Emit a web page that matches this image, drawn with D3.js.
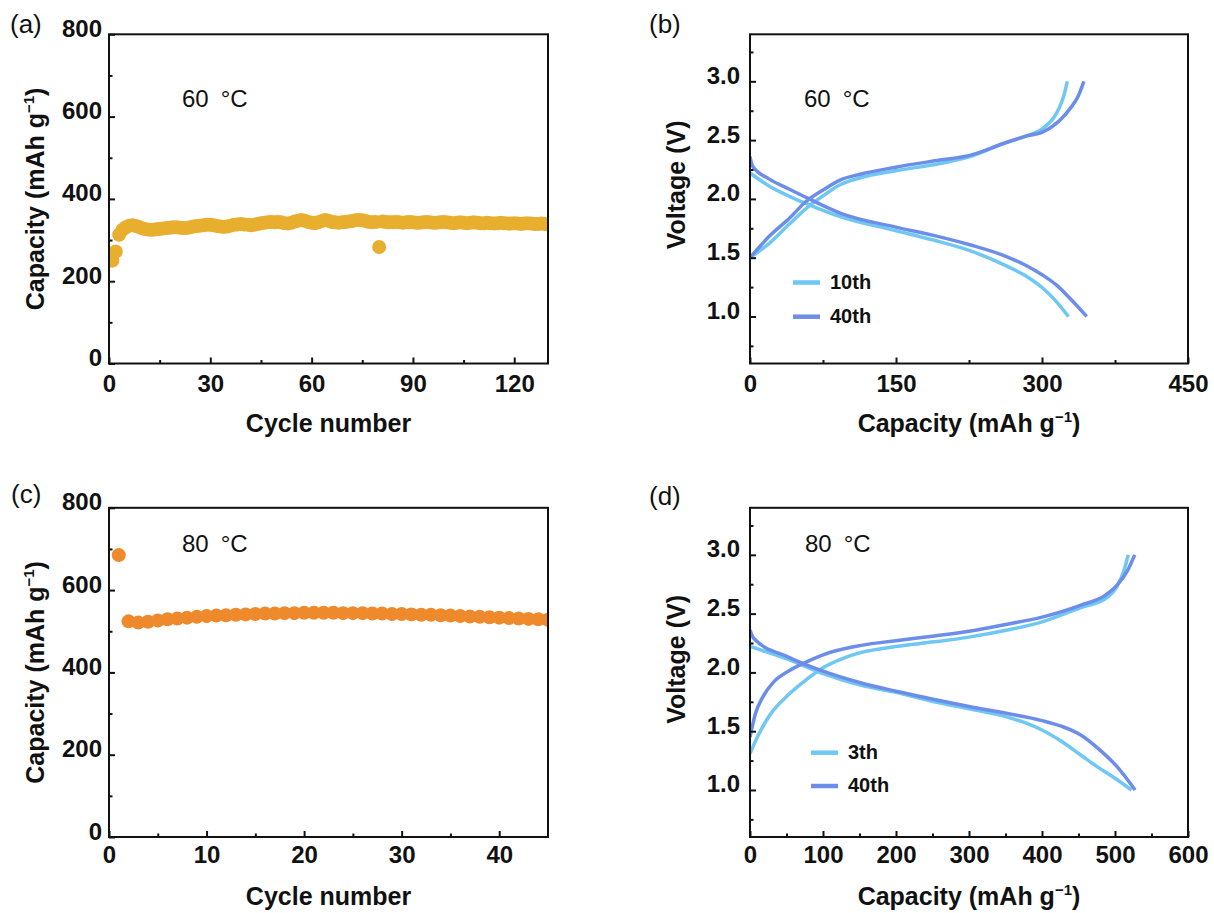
<!DOCTYPE html>
<html>
<head>
<meta charset="utf-8">
<script src="https://cdn.jsdelivr.net/npm/d3@7"></script>
<style>
  body { margin: 0; background: #fff; }
  svg { display: block; }
</style>
</head>
<body>
<svg id="fig" width="1214" height="913"></svg>
<script>
// ---- data ----
// (a) capacity per cycle at 60 C, cycles 1..130
const capacityA = [
  250, 272, 313, 325, 331, 335, 336, 334, 331, 328,
  326, 325, 325, 326, 327, 328, 329, 330, 331, 331,
  330, 329, 329, 331, 333, 334, 335, 336, 337, 337,
  336, 334, 333, 332, 333, 335, 337, 338, 339, 338,
  337, 336, 337, 339, 341, 342, 343, 344, 343, 344,
  343, 341, 340, 342, 345, 347, 349, 347, 344, 342,
  341, 343, 346, 349, 347, 344, 343, 342, 343, 344,
  345, 346, 348, 349, 348, 346, 344, 343, 344, 283,
  345, 344, 343, 343, 344, 343, 342, 343, 344, 343,
  342, 342, 343, 344, 343, 342, 342, 343, 344, 343,
  342, 341, 342, 343, 342, 341, 342, 343, 342, 341,
  341, 342, 341, 340, 341, 342, 341, 340, 340, 341,
  340, 339, 340, 341, 340, 339, 339, 340, 339, 338
];

// (c) capacity per cycle at 80 C, cycles 1..45
const capacityC = [
  685, 524, 521, 523, 526, 529, 531, 533, 535, 537,
  538, 539, 540, 541, 542, 543, 543, 544, 544, 545,
  545, 545, 545, 544, 544, 544, 543, 543, 542, 542,
  541, 540, 540, 539, 538, 537, 536, 535, 534, 533,
  532, 531, 530, 529, 528
];

// (b) voltage profiles at 60 C, [capacity, voltage]
const charge10B = [[0, 1.50], [19.5, 1.62], [41, 1.79], [57.8, 1.92], [75.8, 2.03], [92.5, 2.12],
  [113.3, 2.18], [149.7, 2.24], [195, 2.30], [225.9, 2.36], [263.4, 2.48], [282, 2.53],
  [300.9, 2.60], [312, 2.69], [318, 2.78], [322.5, 2.88], [326, 3.00]];
const charge40B = [[0, 1.50], [19.5, 1.68], [41, 1.84], [57.8, 1.98], [75.8, 2.08], [92.5, 2.16],
  [113.3, 2.21], [149.7, 2.27], [195, 2.33], [225.9, 2.37], [263.4, 2.48], [282, 2.53],
  [300.9, 2.57], [319.7, 2.68], [329, 2.77], [337, 2.87], [343, 3.00]];
const discharge10B = [[0, 2.22], [19.5, 2.11], [41, 2.02], [60.8, 1.95], [92.5, 1.85], [149.7, 1.73],
  [188.4, 1.65], [225.9, 1.56], [263.4, 1.43], [282.2, 1.35], [300.9, 1.24], [312.2, 1.15],
  [327.2, 1.00]];
const discharge40B = [[0, 2.36], [2.6, 2.28], [19.5, 2.17], [41, 2.08], [60.8, 2.00], [92.5, 1.88],
  [149.7, 1.76], [188.4, 1.69], [225.9, 1.61], [263.4, 1.51], [282.2, 1.44], [300.9, 1.35],
  [315.9, 1.26], [329.1, 1.15], [345.9, 1.00]];

// (d) voltage profiles at 80 C, [capacity, voltage]
const charge3D = [[0, 1.31], [12.5, 1.48], [27.5, 1.64], [52.5, 1.81], [77.5, 1.94], [100, 2.04],
  [127.5, 2.12], [152.5, 2.17], [200, 2.22], [252.5, 2.26], [300, 2.30], [352.5, 2.36],
  [400, 2.43], [452.5, 2.55], [487.5, 2.63], [502.5, 2.73], [512.5, 2.87], [518, 3.00]];
const charge40D = [[0, 1.45], [7.5, 1.65], [17.5, 1.79], [32.5, 1.92], [52.5, 2.01], [77.5, 2.09],
  [100, 2.15], [152.5, 2.23], [200, 2.27], [252.5, 2.31], [300, 2.35], [352.5, 2.41],
  [400, 2.47], [452.5, 2.57], [487.5, 2.66], [502.5, 2.74], [517.5, 2.87], [527, 3.00]];
const discharge3D = [[0, 2.22], [52.5, 2.11], [100, 1.99], [152.5, 1.89], [200, 1.83], [252.5, 1.75],
  [300, 1.69], [352.5, 1.62], [377.5, 1.57], [400, 1.51], [427.5, 1.41], [452.5, 1.30],
  [477.5, 1.19], [500, 1.10], [522.5, 1.00]];
const discharge40D = [[0, 2.36], [5, 2.29], [52.5, 2.13], [100, 2.01], [152.5, 1.91], [200, 1.84],
  [252.5, 1.77], [300, 1.71], [352.5, 1.65], [400, 1.59], [427.5, 1.54], [452.5, 1.47],
  [477.5, 1.35], [502.5, 1.20], [527.5, 1.00]];

// ticks
const capTicks = [0, 200, 400, 600, 800];
const capMinor = [100, 300, 500, 700];
const voltTicks = [1.0, 1.5, 2.0, 2.5, 3.0];
const voltMinor = [0.75, 1.25, 1.75, 2.25, 2.75, 3.25];

const FONT = '"Liberation Sans", Arial, Helvetica, sans-serif';
const INK = '#111';
const GOLD = '#e8af2f';
const ORANGE = '#ef8a2c';
const LIGHT_BLUE = '#6fc7f3';
const DARK_BLUE = '#6c8ee9';

const svg = d3.select('#fig');
const defs = svg.append('defs');

const panels = [
  {
    id: 'a', box: {left: 109, right: 548, top: 34.3, bottom: 363.5},
    xDomain: [0, 130], yDomain: [0, 800],
    xTicks: [0, 30, 60, 90, 120], xMinor: [15, 45, 75, 105], xPad: 11,
    yTicks: capTicks, yMinor: capMinor, yFormat: d3.format('d'), yPad: 7,
    points: capacityA, color: GOLD, radius: 7,
    xTitle: 'Cycle number', yTitle: 'cap', yTitleShift: 0,
    tag: {text: '(a)', x: 10, y: 33}, temp: {text: '60', x: 182, y: 107}
  },
  {
    id: 'b', box: {left: 750, right: 1188, top: 34.3, bottom: 363.5},
    xDomain: [0, 450], yDomain: [0.6, 3.4],
    xTicks: [0, 150, 300, 450], xMinor: [75, 225, 375], xPad: 11,
    yTicks: voltTicks, yMinor: voltMinor, yFormat: d3.format('.1f'), yPad: 10,
    series: [
      {values: charge10B, color: LIGHT_BLUE}, {values: discharge10B, color: LIGHT_BLUE},
      {values: charge40B, color: DARK_BLUE}, {values: discharge40B, color: DARK_BLUE}
    ],
    legend: {x0: 793, x1: 820, tx: 830, rows: [{y: 282.5, label: '10th', color: LIGHT_BLUE},
                                               {y: 316.7, label: '40th', color: DARK_BLUE}]},
    xTitle: 'cap', yTitle: 'Voltage (V)', yTitleShift: -14,
    tag: {text: '(b)', x: 649, y: 33}, temp: {text: '60', x: 804, y: 107}
  },
  {
    id: 'c', box: {left: 109, right: 548, top: 507.8, bottom: 837},
    xDomain: [0, 45], yDomain: [0, 800],
    xTicks: [0, 10, 20, 30, 40], xMinor: [5, 15, 25, 35], xPad: 9,
    yTicks: capTicks, yMinor: capMinor, yFormat: d3.format('d'), yPad: 7,
    points: capacityC, color: ORANGE, radius: 7,
    xTitle: 'Cycle number', yTitle: 'cap', yTitleShift: 0,
    tag: {text: '(c)', x: 11, y: 503}, temp: {text: '80', x: 182, y: 552}
  },
  {
    id: 'd', box: {left: 750, right: 1188, top: 507.8, bottom: 837},
    xDomain: [0, 600], yDomain: [0.6, 3.4],
    xTicks: [0, 100, 200, 300, 400, 500, 600], xMinor: [50, 150, 250, 350, 450, 550], xPad: 9,
    yTicks: voltTicks, yMinor: voltMinor, yFormat: d3.format('.1f'), yPad: 10,
    series: [
      {values: charge3D, color: LIGHT_BLUE}, {values: discharge3D, color: LIGHT_BLUE},
      {values: charge40D, color: DARK_BLUE}, {values: discharge40D, color: DARK_BLUE}
    ],
    legend: {x0: 811, x1: 838, tx: 848, rows: [{y: 752.7, label: '3th', color: LIGHT_BLUE},
                                               {y: 786, label: '40th', color: DARK_BLUE}]},
    xTitle: 'cap', yTitle: 'Voltage (V)', yTitleShift: -13,
    tag: {text: '(d)', x: 649, y: 505}, temp: {text: '80', x: 805, y: 552}
  }
];

// "Capacity (mAh g^-1)" with a raised -1
function capacityTitle(text) {
  text.append('tspan').text('Capacity (mAh g');
  text.append('tspan').attr('font-size', 15).attr('dy', -10).text('\u22121');
  text.append('tspan').attr('dy', 10).text(')');
}

function styleAxis(sel) {
  sel.attr('font-family', FONT).attr('font-size', 24).attr('font-weight', 'bold');
  sel.select('.domain').remove();
  sel.selectAll('.tick line').attr('stroke', INK).attr('stroke-width', 2);
  sel.selectAll('.tick text').attr('fill', INK);
}

function drawPanel(p) {
  const b = p.box;
  const x = d3.scaleLinear().domain(p.xDomain).range([b.left, b.right]);
  const y = d3.scaleLinear().domain(p.yDomain).range([b.bottom, b.top]);
  const g = svg.append('g').attr('class', 'panel-' + p.id);

  defs.append('clipPath').attr('id', 'clip-' + p.id)
    .append('rect')
    .attr('x', b.left).attr('y', b.top)
    .attr('width', b.right - b.left).attr('height', b.bottom - b.top);
  const plot = g.append('g').attr('clip-path', `url(#clip-${p.id})`);

  if (p.points) {
    plot.selectAll('circle')
      .data(p.points)
      .join('circle')
      .attr('cx', (d, i) => x(i + 1))
      .attr('cy', d => y(d))
      .attr('r', p.radius)
      .attr('fill', p.color);
  }

  if (p.series) {
    const line = d3.line()
      .x(d => x(d[0]))
      .y(d => y(d[1]))
      .curve(d3.curveMonotoneX);
    plot.selectAll('path')
      .data(p.series)
      .join('path')
      .attr('d', d => line(d.values))
      .attr('fill', 'none')
      .attr('stroke', d => d.color)
      .attr('stroke-width', 3.5)
      .attr('stroke-linejoin', 'round');
  }

  // axes, ticks point inward
  g.append('g')
    .attr('transform', `translate(0,${b.bottom})`)
    .call(d3.axisBottom(x).tickValues(p.xTicks).tickSizeInner(-6).tickSizeOuter(0).tickPadding(p.xPad))
    .call(styleAxis);
  g.append('g')
    .attr('transform', `translate(0,${b.bottom})`)
    .call(d3.axisBottom(x).tickValues(p.xMinor).tickSizeInner(-3.5).tickSizeOuter(0).tickFormat(''))
    .call(styleAxis);
  g.append('g')
    .attr('transform', `translate(${b.left},0)`)
    .call(d3.axisLeft(y).tickValues(p.yTicks).tickSizeInner(-6).tickSizeOuter(0)
      .tickPadding(p.yPad).tickFormat(p.yFormat))
    .call(styleAxis)
    .call(a => a.selectAll('.tick text').attr('dy', 2));
  g.append('g')
    .attr('transform', `translate(${b.left},0)`)
    .call(d3.axisLeft(y).tickValues(p.yMinor).tickSizeInner(-3.5).tickSizeOuter(0).tickFormat(''))
    .call(styleAxis);

  // frame
  g.append('rect')
    .attr('x', b.left).attr('y', b.top)
    .attr('width', b.right - b.left).attr('height', b.bottom - b.top)
    .attr('fill', 'none').attr('stroke', INK).attr('stroke-width', 2);

  // axis titles
  const xt = g.append('text')
    .attr('x', (b.left + b.right) / 2).attr('y', b.bottom + 68)
    .attr('text-anchor', 'middle')
    .attr('font-family', FONT).attr('font-size', 25).attr('font-weight', 'bold')
    .attr('fill', INK);
  if (p.xTitle === 'cap') capacityTitle(xt); else xt.text(p.xTitle);

  const yt = g.append('text')
    .attr('transform', `translate(${b.left - 65},${(b.top + b.bottom) / 2 + p.yTitleShift}) rotate(-90)`)
    .attr('text-anchor', 'middle')
    .attr('font-family', FONT).attr('font-size', 25).attr('font-weight', 'bold')
    .attr('fill', INK);
  if (p.yTitle === 'cap') capacityTitle(yt); else yt.text(p.yTitle);

  // panel tag and temperature
  g.append('text')
    .attr('x', p.tag.x).attr('y', p.tag.y)
    .attr('font-family', FONT).attr('font-size', 26)
    .attr('fill', INK)
    .text(p.tag.text);
  g.append('text')
    .attr('x', p.temp.x).attr('y', p.temp.y)
    .attr('font-family', FONT).attr('font-size', 24)
    .attr('fill', INK)
    .text(p.temp.text + '\u2002\u00b0C');

  // legend
  if (p.legend) {
    const lg = g.append('g');
    p.legend.rows.forEach(r => {
      lg.append('line')
        .attr('x1', p.legend.x0).attr('x2', p.legend.x1)
        .attr('y1', r.y).attr('y2', r.y)
        .attr('stroke', r.color).attr('stroke-width', 4.5);
      lg.append('text')
        .attr('x', p.legend.tx).attr('y', r.y + 6)
        .attr('font-family', FONT).attr('font-size', 20).attr('font-weight', 'bold')
        .attr('fill', INK)
        .text(r.label);
    });
  }
}

panels.forEach(drawPanel);
</script>
</body>
</html>
